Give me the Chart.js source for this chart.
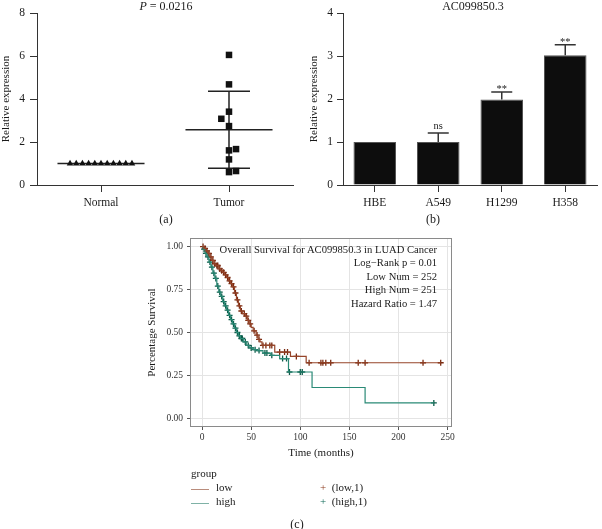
<!DOCTYPE html>
<html>
<head>
<meta charset="utf-8">
<script src="https://cdn.jsdelivr.net/npm/chart.js@4.4.0/dist/chart.umd.min.js"></script>
<style>
  body { margin: 0; background: #fff; font-family: "Liberation Serif", serif; color: #1a1a1a; }
  #wrap { position: relative; width: 602px; height: 529px; overflow: hidden; }
  .box { position: absolute; }
  .c { position: absolute; transform: translate(-50%, -50%); white-space: nowrap; font-size: 12px; }
  .t { position: absolute; white-space: nowrap; font-size: 11px; }
  .ln { position: absolute; height: 0; width: 18px; border-top: 1.5px solid; }
</style>
</head>
<body>
<div id="wrap">
  <div class="box" style="left:0;top:0;width:300px;height:230px"><canvas id="chart-a"></canvas></div>
  <div class="box" style="left:300px;top:0;width:302px;height:230px"><canvas id="chart-b"></canvas></div>
  <div class="box" style="left:140px;top:225px;width:320px;height:235px"><canvas id="chart-c"></canvas></div>

  <div class="c" style="left:166px;top:6px"><i>P</i> = 0.0216</div>
  <div class="c" style="left:473px;top:6px">AC099850.3</div>
  <div class="c" style="left:166px;top:219px">(a)</div>
  <div class="c" style="left:433px;top:219px">(b)</div>

  <div class="t" style="right:165px;top:243px;text-align:right;line-height:13.4px;font-size:10.6px">
    Overall Survival for AC099850.3 in LUAD Cancer<br>
    Log&minus;Rank p = 0.01<br>
    Low Num = 252<br>
    High Num = 251<br>
    Hazard Ratio = 1.47
  </div>

  <div class="t" style="left:191px;top:467px">group</div>
  <div class="ln" style="left:191px;top:489px;border-color:#b98c7c"></div>
  <div class="t" style="left:216px;top:481px">low</div>
  <div class="ln" style="left:191px;top:503px;border-color:#7fb2a6"></div>
  <div class="t" style="left:216px;top:495px">high</div>
  <div class="t" style="left:320px;top:481px"><span style="color:#8c3a1c">+</span>&nbsp; (low,1)</div>
  <div class="t" style="left:320px;top:495px"><span style="color:#0f6a58">+</span>&nbsp; (high,1)</div>
  <div class="c" style="left:297px;top:524px">(c)</div>
</div>

<script>
/* ---- data: panel (a) ---- */
const groupsA = ['Normal', 'Tumor'];
const normalVals = [1.0, 1.0, 1.0, 1.0, 1.0, 1.0, 1.0, 1.0, 1.0, 1.0, 1.0];
const tumorVals = [6.05, 4.68, 3.41, 3.08, 2.74, 1.61, 1.67, 1.19, 0.60, 0.65];
const yTicksA = [0, 2, 4, 6, 8];

/* ---- data: panel (b) ---- */
const cellLines = ['HBE', 'A549', 'H1299', 'H358'];
const cellMeans = [1.0, 1.0, 1.99, 3.02];
const cellErr = [0, 0.21, 0.17, 0.24];
const cellSig = ['', 'ns', '**', '**'];
const yTicksB = [0, 1, 2, 3, 4];

/* ---- data: panel (c), KM steps (time in months, survival) ---- */
const timeTicks = [0, 50, 100, 150, 200, 250];
const survTicks = [0, 0.25, 0.5, 0.75, 1];
const lowT = [0, 2, 4, 6, 8, 10, 12, 14, 17, 19, 21, 23, 25, 27, 29, 31, 33, 35, 37, 39, 41, 44, 46, 48, 50, 52, 55, 57, 59, 61, 74, 90, 106, 243];
const lowS = [1, 0.99, 0.975, 0.96, 0.94, 0.92, 0.9, 0.89, 0.87, 0.86, 0.85, 0.835, 0.82, 0.8, 0.785, 0.765, 0.73, 0.69, 0.655, 0.625, 0.61, 0.595, 0.57, 0.55, 0.53, 0.51, 0.485, 0.46, 0.445, 0.425, 0.386, 0.361, 0.324, 0.324];
const highT = [0, 1, 3, 5, 7, 9, 11, 13, 15, 17, 19, 21, 23, 25, 27, 29, 31, 33, 35, 37, 39, 42, 45, 48, 52, 56, 62, 70, 79, 88, 112, 166, 236];
const highS = [1, 0.985, 0.96, 0.94, 0.91, 0.88, 0.845, 0.815, 0.77, 0.735, 0.71, 0.68, 0.655, 0.63, 0.6, 0.575, 0.55, 0.525, 0.5, 0.48, 0.465, 0.445, 0.425, 0.41, 0.4, 0.395, 0.38, 0.367, 0.348, 0.27, 0.18, 0.09, 0.09];
const lowCensT = [1, 3, 5, 7, 9, 11, 13, 15, 16, 18, 20, 22, 24, 26, 28, 30, 32, 34, 36, 38, 40, 43, 45, 47, 49, 53, 56, 58, 62, 65, 69, 71, 79, 84, 87, 96, 109, 121, 123, 126, 131, 159, 166, 225, 243];
const lowCensS = [1, 0.99, 0.975, 0.96, 0.94, 0.92, 0.9, 0.89, 0.89, 0.87, 0.86, 0.85, 0.835, 0.82, 0.8, 0.785, 0.765, 0.73, 0.69, 0.655, 0.625, 0.61, 0.595, 0.57, 0.55, 0.51, 0.485, 0.46, 0.425, 0.425, 0.425, 0.425, 0.386, 0.386, 0.386, 0.361, 0.324, 0.324, 0.324, 0.324, 0.324, 0.324, 0.324, 0.324, 0.324];
const highCensT = [2, 4, 6, 8, 10, 12, 14, 16, 18, 20, 22, 24, 26, 28, 30, 32, 34, 36, 38, 40, 41, 44, 47, 50, 54, 58, 64, 66, 71, 82, 86, 89, 100, 102, 236];
const highCensS = [0.985, 0.96, 0.94, 0.91, 0.88, 0.845, 0.815, 0.77, 0.735, 0.71, 0.68, 0.655, 0.63, 0.6, 0.575, 0.55, 0.525, 0.5, 0.48, 0.465, 0.465, 0.445, 0.425, 0.41, 0.4, 0.395, 0.38, 0.38, 0.367, 0.348, 0.348, 0.27, 0.27, 0.27, 0.09];

/* ---- common ---- */
Chart.defaults.font.family = '"Liberation Serif", serif';
Chart.defaults.color = '#1a1a1a';
Chart.defaults.animation = false;

const mean = a => a.reduce((s, v) => s + v, 0) / a.length;
const sd = a => { const m = mean(a); return Math.sqrt(a.reduce((s, v) => s + (v - m) ** 2, 0) / (a.length - 1)); };
const fixTicks = vals => s => { s.ticks = vals.map(v => ({ value: v })); };
const seg = (x1, y1, x2, y2) => ({ type: 'line', data: [{ x: x1, y: y1 }, { x: x2, y: y2 }], borderColor: '#222', borderWidth: 1.5, pointRadius: 0 });
const pts = (xs, ys) => xs.map((x, i) => ({ x, y: ys[i] }));

/* ---- (a) scatter with mean ± SD ---- */
const tumorJitter = [0, 0, 0, -0.06, 0, 0, 0.055, 0, 0, 0.055];
const statsA = [normalVals, tumorVals].map(a => ({ m: mean(a), s: sd(a) }));
const errA = [];
statsA.forEach((st, i) => {
  errA.push(seg(i - 0.34, st.m, i + 0.34, st.m));
  if (st.s > 0) {
    errA.push(seg(i, st.m - st.s, i, st.m + st.s));
    errA.push(seg(i - 0.164, st.m + st.s, i + 0.164, st.m + st.s));
    errA.push(seg(i - 0.164, st.m - st.s, i + 0.164, st.m - st.s));
  }
});

new Chart(document.getElementById('chart-a'), {
  type: 'scatter',
  data: {
    datasets: [
      { data: normalVals.map((v, i) => ({ x: (i - (normalVals.length - 1) / 2) * 0.0484, y: v })), pointStyle: 'triangle', pointRadius: 3.8, backgroundColor: '#111', borderColor: '#111', borderWidth: 0 },
      { data: tumorVals.map((v, i) => ({ x: 1 + tumorJitter[i], y: v })), pointStyle: 'rect', pointRadius: 4.6, backgroundColor: '#111', borderColor: '#111', borderWidth: 0 },
      ...errA,
    ],
  },
  options: {
    responsive: true, maintainAspectRatio: false,
    layout: { padding: { top: 13, right: 7, left: 0, bottom: 0 } },
    plugins: { legend: { display: false }, tooltip: { enabled: false } },
    scales: {
      x: {
        type: 'linear', min: -0.5, max: 1.5, afterBuildTicks: fixTicks([0, 1]),
        ticks: { callback: v => groupsA[v], font: { size: 11.5 }, padding: 4, maxRotation: 0 },
        grid: { drawOnChartArea: false, tickLength: 7, color: '#333' },
        border: { color: '#333' },
        afterFit: s => { s.height = 45; },
      },
      y: {
        min: 0, max: 8, afterBuildTicks: fixTicks(yTicksA),
        ticks: { font: { size: 11.5 }, padding: 5 },
        grid: { drawOnChartArea: false, tickLength: 7, color: '#333' },
        border: { color: '#333' },
        title: { display: true, text: 'Relative expression', font: { size: 11 }, padding: { top: 0, bottom: 0 } },
        afterFit: s => { s.width = 37; },
      },
    },
  },
});

/* ---- (b) bars with error bars ---- */
const errBars = {
  id: 'errBars',
  afterDatasetsDraw(chart) {
    const { ctx, scales: { y } } = chart;
    const meta = chart.getDatasetMeta(0);
    ctx.save();
    ctx.strokeStyle = '#333'; ctx.lineWidth = 1.5;
    ctx.fillStyle = '#222'; ctx.textAlign = 'center'; ctx.textBaseline = 'alphabetic';
    ctx.font = '10.5px "Liberation Serif", serif';
    meta.data.forEach((bar, i) => {
      if (!cellErr[i]) return;
      const yb = y.getPixelForValue(cellMeans[i]);
      const yt = y.getPixelForValue(cellMeans[i] + cellErr[i]);
      ctx.beginPath();
      ctx.moveTo(bar.x, yb); ctx.lineTo(bar.x, yt);
      ctx.moveTo(bar.x - 10.5, yt); ctx.lineTo(bar.x + 10.5, yt);
      ctx.stroke();
      ctx.fillText(cellSig[i], bar.x, yt - (cellSig[i] === 'ns' ? 4 : 0));
    });
    ctx.restore();
  },
};

new Chart(document.getElementById('chart-b'), {
  type: 'bar',
  data: {
    labels: cellLines,
    datasets: [{ data: cellMeans, backgroundColor: '#0d0d0d', borderColor: '#555', borderWidth: 1, barPercentage: 0.67, categoryPercentage: 1 }],
  },
  options: {
    responsive: true, maintainAspectRatio: false,
    layout: { padding: { top: 13, right: 5, left: 0, bottom: 0 } },
    plugins: { legend: { display: false }, tooltip: { enabled: false } },
    scales: {
      x: {
        ticks: { font: { size: 11.5 }, padding: 4, maxRotation: 0 },
        grid: { offset: false, drawOnChartArea: false, tickLength: 7, color: '#333' },
        border: { color: '#333' },
        afterFit: s => { s.height = 45; },
      },
      y: {
        min: 0, max: 4, afterBuildTicks: fixTicks(yTicksB),
        ticks: { font: { size: 11.5 }, padding: 4 },
        grid: { drawOnChartArea: false, tickLength: 6, color: '#333' },
        border: { color: '#333' },
        title: { display: true, text: 'Relative expression', font: { size: 11 }, padding: { top: 8, bottom: 0 } },
        afterFit: s => { s.width = 43; },
      },
    },
  },
  plugins: [errBars],
});

/* ---- (c) Kaplan-Meier ---- */
const panelBox = {
  id: 'panelBox',
  beforeDatasetsDraw(chart) {
    const { ctx, chartArea: a } = chart;
    ctx.save();
    ctx.strokeStyle = '#8a8a8a'; ctx.lineWidth = 1;
    ctx.strokeRect(a.left + 0.5, a.top + 0.5, a.right - a.left - 1, a.bottom - a.top - 1);
    ctx.restore();
  },
};

const LOW = '#96452a', HIGH = '#2a8a76';
new Chart(document.getElementById('chart-c'), {
  type: 'scatter',
  data: {
    datasets: [
      { data: pts(lowT, lowS), showLine: true, stepped: 'before', borderColor: LOW, borderWidth: 1.2, pointRadius: 0 },
      { data: pts(highT, highS), showLine: true, stepped: 'before', borderColor: HIGH, borderWidth: 1.2, pointRadius: 0 },
      { data: pts(lowCensT, lowCensS), pointStyle: 'cross', pointRadius: 3, borderColor: '#7a2a10', borderWidth: 1.3 },
      { data: pts(highCensT, highCensS), pointStyle: 'cross', pointRadius: 3, borderColor: '#0c5c4a', borderWidth: 1.3 },
    ],
  },
  options: {
    responsive: true, maintainAspectRatio: false,
    layout: { padding: { top: 13, right: 8, left: 0, bottom: 0 } },
    plugins: { legend: { display: false }, tooltip: { enabled: false } },
    scales: {
      x: {
        type: 'linear', min: -12.3, max: 254.5, afterBuildTicks: fixTicks(timeTicks),
        ticks: { font: { size: 9.5 }, color: '#333', padding: 2, maxRotation: 0 },
        grid: { color: '#e4e4e4', tickColor: '#555', tickLength: 3 },
        border: { display: false },
        title: { display: true, text: 'Time (months)', font: { size: 11 }, padding: { top: 0, bottom: 0 } },
        afterFit: s => { s.height = 33; },
      },
      y: {
        min: -0.05, max: 1.05, afterBuildTicks: fixTicks(survTicks),
        ticks: { font: { size: 9.5 }, color: '#333', padding: 4, callback: v => v.toFixed(2) },
        grid: { color: '#e4e4e4', tickColor: '#555', tickLength: 3 },
        border: { display: false },
        title: { display: true, text: 'Percentage Survival', font: { size: 11 }, padding: { top: 6, bottom: 0 } },
        afterFit: s => { s.width = 50; },
      },
    },
  },
  plugins: [panelBox],
});
</script>
</body>
</html>
